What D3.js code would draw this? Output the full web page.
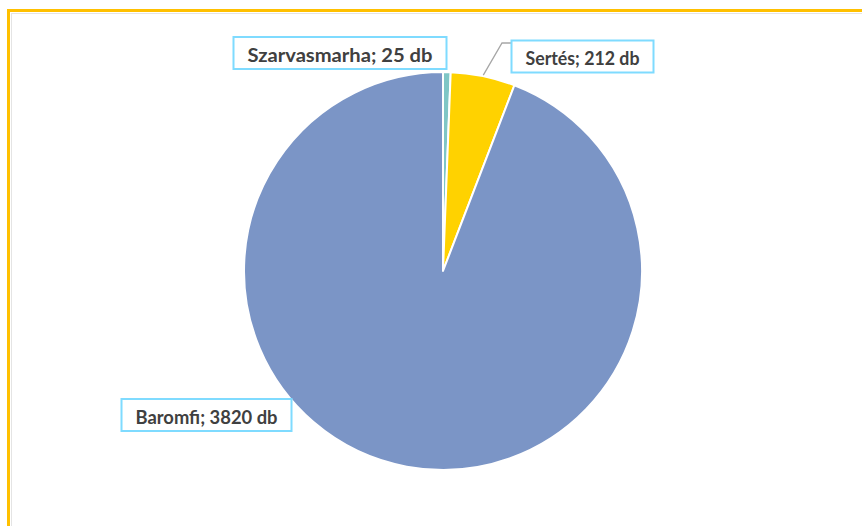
<!DOCTYPE html>
<html><head><meta charset="utf-8">
<script src="https://cdn.jsdelivr.net/npm/d3@7"></script>
<style>html,body{margin:0;padding:0;background:#fff;}svg{display:block;}</style>
</head><body>
<svg id="c" width="862" height="526"></svg>
<script>
const categories = ["Szarvasmarha", "Sertés", "Baromfi"];
const values = [25, 212, 3820];
const unit = "db";
const colors = ["#7FC6C6", "#FFD200", "#7B95C6"];

const svg = d3.select("#c");
// frame
svg.append("rect").attr("x", 11.5).attr("y", 13.5).attr("width", 900).attr("height", 600)
  .attr("fill", "none").attr("stroke", "#e4e4e4").attr("stroke-width", 1);
svg.append("rect").attr("x", 8.5).attr("y", 10.5).attr("width", 900).attr("height", 600)
  .attr("fill", "none").attr("stroke", "#FFC000").attr("stroke-width", 3);

const cx = 443, cy = 271, r = 199;
const pie = d3.pie().sort(null).value(d => d.v);
const data = categories.map((c, i) => ({c, v: values[i], col: colors[i]}));
const arcs = pie(data);
const arc = d3.arc().innerRadius(0).outerRadius(r);
const g = svg.append("g").attr("transform", `translate(${cx},${cy})`);
g.selectAll("path").data(arcs).join("path")
  .attr("d", arc).attr("fill", d => d.data.col)
  .attr("stroke", "#fff").attr("stroke-width", 2).attr("stroke-linejoin", "round");

// labels (layout positions: centre x, centre y, box width)
const labelPos = [
  {x: 340, y: 53, w: 213},
  {x: 582.5, y: 56.5, w: 142},
  {x: 206.5, y: 415, w: 170}
];
const lab = svg.append("g");
// leader line for Sertés
const aS = arcs[1];
const midS = (aS.startAngle + aS.endAngle) / 2;
const p0 = [cx + Math.sin(midS) * (r + 1), cy - Math.cos(midS) * (r + 1)];
lab.append("polyline")
  .attr("points", `${p0[0]},${p0[1]} 502,43 511,43`)
  .attr("fill", "none").attr("stroke", "#A6A6A6").attr("stroke-width", 1.3);

arcs.forEach((a, i) => {
  const p = labelPos[i];
  lab.append("rect").attr("x", p.x - p.w / 2).attr("y", p.y - 16)
    .attr("width", p.w).attr("height", 32)
    .attr("fill", "#fff").attr("stroke", "#7FDBFF").attr("stroke-width", 2);
  const t = lab.append("text").attr("x", p.x).attr("y", p.y + 1)
    .attr("text-anchor", "middle").attr("dominant-baseline", "central")
    .attr("font-family", "Lato, 'Open Sans', sans-serif").attr("font-weight", "bold")
    .attr("font-size", 19.5).attr("fill", "#404040")
    .text(`${a.data.c}; ${a.data.v} ${unit}`);
  const tw = t.node().getComputedTextLength();
  const target = p.w - 28;
  if (Math.abs(tw - target) > 2) t.attr("textLength", target).attr("lengthAdjust", "spacingAndGlyphs");
});
</script>
</body></html>
